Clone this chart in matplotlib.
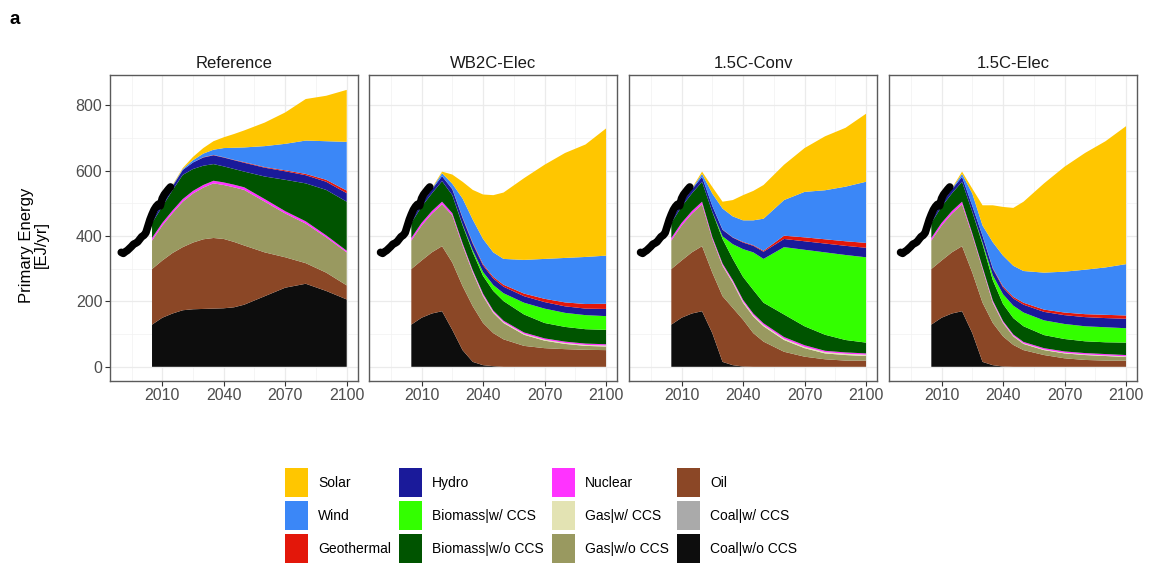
import matplotlib.pyplot as plt
from matplotlib.patches import Patch
from matplotlib.ticker import MultipleLocator

plt.rcParams['font.family'] = ['Liberation Sans', 'DejaVu Sans']

# model years shared by all scenarios
years = [2005, 2010, 2015, 2020, 2025, 2030, 2035, 2040, 2045, 2050, 2060, 2070, 2080, 2090, 2100]

# historical primary energy (EJ/yr)
hist_years = list(range(1990, 2015))
hist_energy = [350, 347, 352, 356, 362, 368, 375, 378, 382, 390, 398, 402, 410,
               430, 450, 466, 480, 490, 497, 492, 515, 527, 535, 543, 550]

# stack order, bottom to top
sources = ['Coal|w/o CCS', 'Coal|w/ CCS', 'Oil', 'Gas|w/o CCS', 'Gas|w/ CCS', 'Nuclear',
           'Biomass|w/o CCS', 'Biomass|w/ CCS', 'Hydro', 'Geothermal', 'Wind', 'Solar']
colors = {
    'Solar': '#FFC600', 'Wind': '#3B87F7', 'Geothermal': '#E3170A',
    'Hydro': '#1A1A9A', 'Biomass|w/ CCS': '#33FF00', 'Biomass|w/o CCS': '#005400',
    'Nuclear': '#FF33FF', 'Gas|w/ CCS': '#E3E3B3', 'Gas|w/o CCS': '#999960',
    'Oil': '#8B4726', 'Coal|w/ CCS': '#AAAAAA', 'Coal|w/o CCS': '#0D0D0D',
}
zeros = [0] * len(years)

reference = {
    'Coal|w/o CCS': [129, 150, 163, 173, 176, 177, 178, 179, 182, 190, 216, 242, 254, 232, 206],
    'Coal|w/ CCS': zeros,
    'Oil': [170, 175, 185, 193, 204, 213, 216, 212, 200, 181, 134, 93, 63, 56, 43],
    'Gas|w/o CCS': [87, 107, 122, 139, 150, 158, 167, 165, 167, 170, 155, 134, 121, 108, 101],
    'Gas|w/ CCS': zeros,
    'Nuclear': [8, 8, 8, 8, 8, 8, 8, 8, 8, 8, 8, 7, 7, 6, 5],
    'Biomass|w/o CCS': [46, 50, 62, 74, 67, 59, 51, 49, 48, 48, 69, 96, 116, 139, 150],
    'Biomass|w/ CCS': zeros,
    'Hydro': [8, 10, 12, 15, 20, 25, 27, 27, 27, 27, 27, 26, 25, 25, 26],
    'Geothermal': [0, 0, 0, 0, 0, 1, 1, 1, 1, 2, 2, 3, 4, 6, 8],
    'Wind': [1, 1, 2, 3, 7, 11, 16, 28, 37, 45, 64, 81, 102, 118, 149],
    'Solar': [1, 1, 2, 3, 10, 17, 26, 33, 42, 52, 72, 96, 127, 139, 159],
}

wb2c_elec = {
    'Coal|w/o CCS': [129, 150, 163, 170, 113, 51, 15, 5, 2, 0, 0, 0, 0, 0, 0],
    'Coal|w/ CCS': zeros,
    'Oil': [170, 175, 187, 199, 206, 196, 170, 129, 101, 84, 64, 57, 54, 52, 51],
    'Gas|w/o CCS': [87, 107, 118, 128, 144, 124, 103, 82, 62, 50, 34, 23, 16, 12, 11],
    'Gas|w/ CCS': [0, 0, 0, 0, 0, 1, 2, 3, 3, 3, 3, 3, 3, 3, 3],
    'Nuclear': [8, 8, 8, 8, 7, 6, 5, 5, 4, 4, 4, 4, 4, 4, 4],
    'Biomass|w/o CCS': [46, 50, 54, 63, 55, 55, 55, 54, 60, 60, 55, 47, 45, 44, 44],
    'Biomass|w/ CCS': [0, 0, 0, 0, 0, 2, 6, 12, 18, 24, 36, 44, 43, 43, 42],
    'Hydro': [8, 10, 12, 15, 18, 20, 20, 20, 20, 20, 20, 20, 20, 20, 22],
    'Geothermal': [0, 0, 0, 0, 1, 2, 3, 4, 5, 6, 8, 10, 12, 14, 16],
    'Wind': [1, 1, 2, 9, 16, 58, 71, 77, 75, 79, 103, 122, 136, 144, 147],
    'Solar': [1, 1, 2, 5, 28, 51, 91, 136, 175, 203, 250, 288, 321, 344, 389],
}

conv_15c = {
    'Coal|w/o CCS': [129, 150, 163, 170, 103, 15, 5, 1, 0, 0, 0, 0, 0, 0, 0],
    'Coal|w/ CCS': zeros,
    'Oil': [170, 175, 187, 199, 185, 201, 175, 143, 103, 77, 46, 31, 23, 19, 19],
    'Gas|w/o CCS': [87, 107, 118, 128, 103, 93, 77, 52, 51, 47, 36, 26, 18, 17, 14],
    'Gas|w/ CCS': [0, 0, 0, 0, 0, 2, 3, 4, 4, 4, 4, 4, 4, 4, 4],
    'Nuclear': [8, 8, 8, 8, 6, 5, 5, 5, 5, 5, 5, 5, 4, 4, 4],
    'Biomass|w/o CCS': [46, 50, 54, 61, 77, 75, 65, 70, 72, 63, 69, 58, 49, 38, 33],
    'Biomass|w/ CCS': [0, 0, 0, 0, 0, 8, 45, 85, 115, 134, 206, 234, 252, 260, 261],
    'Hydro': [8, 10, 12, 15, 18, 20, 20, 20, 20, 22, 25, 26, 27, 28, 29],
    'Geothermal': [0, 0, 0, 0, 0, 1, 1, 2, 2, 3, 10, 12, 13, 14, 15],
    'Wind': [1, 1, 2, 9, 38, 64, 64, 66, 76, 98, 109, 139, 150, 167, 187],
    'Solar': [1, 1, 2, 7, 20, 21, 50, 77, 90, 103, 108, 134, 165, 180, 208],
}

elec_15c = {
    'Coal|w/o CCS': [129, 150, 163, 170, 103, 15, 5, 1, 0, 0, 0, 0, 0, 0, 0],
    'Coal|w/ CCS': zeros,
    'Oil': [170, 175, 187, 199, 185, 181, 129, 92, 67, 51, 36, 26, 21, 19, 19],
    'Gas|w/o CCS': [87, 107, 118, 128, 114, 103, 62, 41, 26, 19, 15, 15, 15, 14, 11],
    'Gas|w/ CCS': [0, 0, 0, 0, 0, 1, 2, 2, 2, 2, 2, 2, 2, 2, 2],
    'Nuclear': [8, 8, 8, 8, 6, 5, 5, 4, 4, 4, 4, 4, 4, 4, 4],
    'Biomass|w/o CCS': [46, 50, 54, 61, 66, 70, 62, 52, 50, 48, 40, 38, 36, 36, 38],
    'Biomass|w/ CCS': [0, 0, 0, 0, 0, 5, 15, 30, 38, 42, 45, 46, 46, 46, 44],
    'Hydro': [8, 10, 12, 15, 18, 20, 20, 20, 22, 24, 26, 27, 28, 28, 29],
    'Geothermal': [0, 0, 0, 0, 0, 1, 2, 4, 5, 6, 7, 8, 9, 10, 10],
    'Wind': [1, 1, 2, 9, 38, 31, 79, 94, 95, 97, 113, 125, 136, 145, 157],
    'Solar': [1, 1, 2, 7, 15, 62, 113, 149, 177, 212, 273, 321, 357, 386, 422],
}

scenarios = ['Reference', 'WB2C-Elec', '1.5C-Conv', '1.5C-Elec']
scenario_data = [reference, wb2c_elec, conv_15c, elec_15c]

W, H = 1157, 569
fig = plt.figure(figsize=(W / 100, H / 100), dpi=100)

panel_left = [110, 369.3, 629.3, 889.3]
panel_w, panel_top, panel_bottom = 248, 75, 380.7

for i, (name, data) in enumerate(zip(scenarios, scenario_data)):
    ax = fig.add_axes([panel_left[i] / W, 1 - panel_bottom / H,
                       panel_w / W, (panel_bottom - panel_top) / H])
    ax.stackplot(years, *[data[s] for s in sources],
                 colors=[colors[s] for s in sources], linewidth=0, zorder=2)
    ax.plot(hist_years, hist_energy, color='black', lw=5.5,
            solid_capstyle='round', solid_joinstyle='round', zorder=3)

    ax.set_xlim(1984.5, 2105.5)
    ax.set_ylim(-42.5, 892.5)
    ax.set_xticks([2010, 2040, 2070, 2100])
    ax.xaxis.set_minor_locator(MultipleLocator(15))
    ax.set_yticks([0, 200, 400, 600, 800])
    ax.yaxis.set_minor_locator(MultipleLocator(100))
    ax.grid(True, which='major', color='#EBEBEB', lw=0.9, zorder=0)
    ax.grid(True, which='minor', color='#F2F2F2', lw=0.5, zorder=0)
    ax.set_axisbelow(True)
    ax.tick_params(which='major', length=3.5, width=0.8, color='#333333',
                   labelcolor='#4D4D4D', labelsize=11.5, pad=2)
    ax.tick_params(which='minor', length=0)
    if i > 0:
        ax.tick_params(axis='y', which='both', left=False, labelleft=False)
    for sp in ax.spines.values():
        sp.set_color('#5A5A5A')
        sp.set_linewidth(1.0)
    ax.set_title(name, fontsize=12, color='#1A1A1A', pad=5)

fig.text(34 / W, 1 - 245 / H, 'Primary Energy\n[EJ/yr]', rotation=90,
         ha='center', va='center', fontsize=12, color='black', linespacing=1.0)
fig.text(10 / W, 1 - 19 / H, 'a', fontsize=13.5, fontweight='bold', ha='left', va='center')

legend_order = ['Solar', 'Wind', 'Geothermal', 'Hydro', 'Biomass|w/ CCS', 'Biomass|w/o CCS',
                'Nuclear', 'Gas|w/ CCS', 'Gas|w/o CCS', 'Oil', 'Coal|w/ CCS', 'Coal|w/o CCS']
handles = [Patch(facecolor=colors[s], edgecolor='none', label=s) for s in legend_order]
fig.legend(handles=handles, ncol=4, loc='center', bbox_to_anchor=(541 / W, 1 - 515.5 / H),
           frameon=False, fontsize=10, handlelength=1.65, handleheight=2.94,
           labelspacing=0.22, handletextpad=0.72, columnspacing=0.6, borderpad=0)

fig.savefig('out.png', dpi=100)
